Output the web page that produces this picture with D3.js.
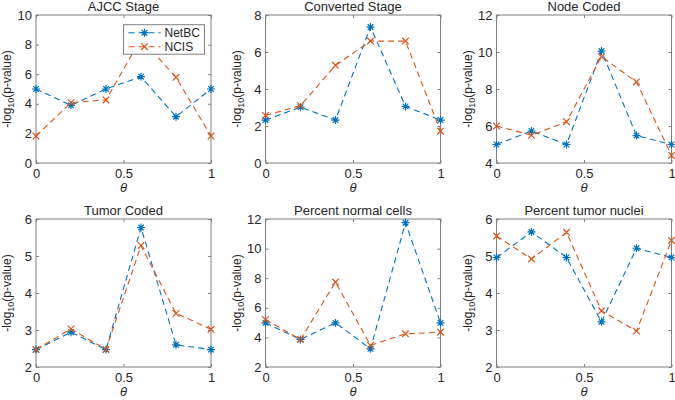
<!DOCTYPE html>
<html><head><meta charset="utf-8">
<script src="https://cdn.jsdelivr.net/npm/d3@7"></script>
<style>body{margin:0;background:#fff}svg{display:block}text{font-family:"Liberation Sans",Arial,sans-serif;fill:#262626}</style>
</head><body><svg id="c" width="675" height="400"></svg>
<script>
const theta = [0, 0.2, 0.4, 0.6, 0.8, 1];
const titles = ["AJCC Stage","Converted Stage","Node Coded","Tumor Coded","Percent normal cells","Percent tumor nuclei"];
const yDomains = [[0,10],[0,8],[4,12],[2,6],[2,12],[2,6]];
const yTicks = [[0,2,4,6,8,10],[0,2,4,6,8],[4,6,8,10,12],[2,3,4,5,6],[2,4,6,8,10,12],[2,3,4,5,6]];
const xTicks = [0,0.5,1];
const netbc = [
  [5.0,3.9,5.0,5.83,3.13,5.0],
  [2.32,3.02,2.32,7.35,3.06,2.32],
  [5.0,5.73,5.0,10.05,5.48,5.0],
  [2.47,2.94,2.47,5.77,2.6,2.47],
  [4.98,3.86,4.98,3.23,11.75,4.98],
  [4.96,5.65,4.96,3.22,5.21,4.96]
];
const ncis = [
  [1.82,4.08,4.26,8.4,5.79,1.82],
  [2.57,3.1,5.28,6.59,6.59,1.72],
  [6.0,5.5,6.23,9.75,8.38,4.41],
  [2.47,3.03,2.47,5.28,3.45,3.02],
  [5.2,3.86,7.74,3.46,4.24,4.35],
  [5.54,4.92,5.64,3.52,2.97,5.42]
];
const seriesNames = ["NetBC","NCIS"];
const colors = ["#0072BD","#D95319"];

const svg = d3.select("#c");
const lefts = [36, 265.5, 496.5], tops = [15, 219], W = 175, H = 148;
const axisCol = "#808080";

function starPath(s){return `M${-s},0L${s},0M0,${-s}L0,${s}M${-s*0.7},${-s*0.7}L${s*0.7},${s*0.7}M${-s*0.7},${s*0.7}L${s*0.7},${-s*0.7}`;}
function xPath(s){return `M${-s},${-s}L${s},${s}M${-s},${s}L${s},${-s}`;}

titles.forEach((t,i)=>{
  const L = lefts[i%3], T = tops[Math.floor(i/3)];
  const g = svg.append("g").attr("transform",`translate(${L},${T})`);
  const x = d3.scaleLinear().domain([0,1]).range([0,W]);
  const y = d3.scaleLinear().domain(yDomains[i]).range([H,0]);
  g.append("rect").attr("width",W).attr("height",H).attr("fill","none").attr("stroke",axisCol).attr("stroke-width",1);
  const ya = g.append("g").call(d3.axisLeft(y).tickValues(yTicks[i]).tickSize(-3).tickPadding(4).tickFormat(d3.format("d")));
  const yr = g.append("g").attr("transform",`translate(${W},0)`).call(d3.axisRight(y).tickValues(yTicks[i]).tickSize(-3).tickFormat(""));
  const xa = g.append("g").attr("transform",`translate(0,${H})`).call(d3.axisBottom(x).tickValues(xTicks).tickSize(-3).tickPadding(6).tickFormat(d=>d===0.5?"0.5":d3.format("d")(d)));
  const xt = g.append("g").call(d3.axisTop(x).tickValues(xTicks).tickSize(-3).tickFormat(""));
  [ya,yr,xa,xt].forEach(a=>{a.select(".domain").remove();a.selectAll("line").attr("stroke",axisCol);a.selectAll("text").attr("font-size",13).attr("fill","#262626").attr("font-family","Liberation Sans, Arial, sans-serif");});
  g.append("text").attr("x",W/2).attr("y",-4).attr("text-anchor","middle").attr("font-size",13).text(t);
  g.append("text").attr("x",W/2).attr("y",H+29).attr("text-anchor","middle").attr("font-size",13)
    .attr("font-family","Liberation Serif, Times New Roman, serif").attr("font-style","italic").text("θ");
  const yl = g.append("text").attr("transform",`translate(-25,${H/2}) rotate(-90)`).attr("text-anchor","middle").attr("font-size",12);
  yl.append("tspan").text("-log");
  yl.append("tspan").attr("font-size",9).attr("dy",3).text("10");
  yl.append("tspan").attr("dy",-3).text("(p-value)");
  [netbc[i], ncis[i]].forEach((vals,k)=>{
    const pts = theta.map((th,j)=>[x(th),y(vals[j])]);
    g.append("path").attr("d",d3.line()(pts)).attr("fill","none").attr("stroke",colors[k]).attr("stroke-width",1.1).attr("stroke-dasharray","6,4");
    g.selectAll(null).data(pts).enter().append("path")
      .attr("transform",d=>`translate(${d[0]},${d[1]})`)
      .attr("d",k===0?starPath(4):xPath(3.3)).attr("fill","none").attr("stroke",colors[k]).attr("stroke-width",1.2);
  });
  if(i===0){
    const lg = g.append("g").attr("transform",`translate(${123.5-L},${24.7-T})`);
    lg.append("rect").attr("width",81).attr("height",29.5).attr("fill","#fff").attr("stroke",axisCol).attr("stroke-width",1);
    seriesNames.forEach((n,k)=>{
      const yy = 8+k*14;
      lg.append("line").attr("x1",5).attr("x2",37).attr("y1",yy).attr("y2",yy).attr("stroke",colors[k]).attr("stroke-width",1.1).attr("stroke-dasharray","6,4");
      lg.append("path").attr("transform",`translate(21,${yy})`).attr("d",k===0?starPath(4):xPath(3.3)).attr("fill","none").attr("stroke",colors[k]).attr("stroke-width",1.2);
      lg.append("text").attr("x",41).attr("y",yy+4.5).attr("font-size",12).text(n);
    });
  }
});
</script></body></html>
